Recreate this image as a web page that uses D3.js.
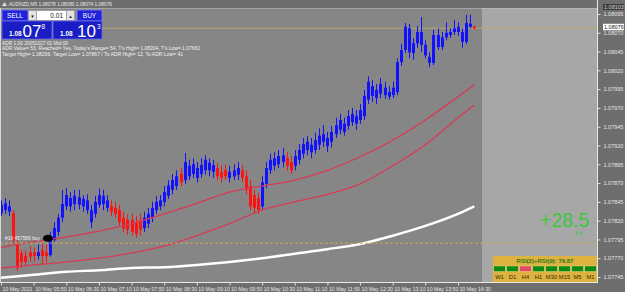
<!DOCTYPE html>
<html>
<head>
<meta charset="utf-8">
<script src="https://cdn.jsdelivr.net/npm/d3@7"></script>
<style>
body{margin:0;background:#6e6e6e;overflow:hidden}
svg{display:block;font-family:"Liberation Sans",Arial,sans-serif}
</style>
</head>
<body>
<script>
// M5 bars, 10 May 2021 05:10 .. 14:50
var opens = [
 1.07830,1.07834,1.07832,1.07830,1.07789,1.07777,1.07773,1.07778,1.07778,1.07773,
 1.07781,1.07778,1.07774,1.07794,1.07805,1.07824,1.07839,1.07839,1.07842,1.07841,
 1.07839,1.07834,1.07818,1.07829,1.07841,1.07842,1.07837,1.07839,1.07837,1.07834,
 1.07824,1.07821,1.07821,1.07818,1.07821,1.07810,1.07816,1.07824,1.07834,1.07839,
 1.07845,1.07853,1.07861,1.07866,1.07882,1.07874,1.07879,1.07882,1.07877,1.07882,
 1.07887,1.07887,1.07885,1.07890,1.07885,1.07887,1.07877,1.07879,1.07881,1.07887,
 1.07879,1.07866,1.07854,1.07850,1.07839,1.07869,1.07887,1.07893,1.07895,1.07898,
 1.07903,1.07898,1.07893,1.07901,1.07909,1.07914,1.07911,1.07914,1.07921,1.07925,
 1.07919,1.07925,1.07935,1.07941,1.07938,1.07946,1.07951,1.07949,1.07954,1.07959,
 1.07981,1.07986,1.07983,1.07989,1.07987,1.07985,1.07987,1.07991,1.08031,1.08047,
 1.08044,1.08043,1.08056,1.08054,1.08040,1.08030,1.08030,1.08051,1.08051,1.08064,
 1.08067,1.08071,1.08071,1.08058,1.08058,1.08078,1.08078
];
var highs = [
 1.07847,1.07850,1.07847,1.07834,1.07794,1.07781,1.07781,1.07786,1.07784,1.07788,
 1.07790,1.07788,1.07805,1.07818,1.07829,1.07861,1.07863,1.07858,1.07861,1.07861,
 1.07854,1.07855,1.07841,1.07853,1.07863,1.07861,1.07854,1.07847,1.07845,1.07841,
 1.07832,1.07828,1.07829,1.07826,1.07829,1.07832,1.07837,1.07845,1.07853,1.07854,
 1.07866,1.07874,1.07882,1.07887,1.07890,1.07910,1.07901,1.07903,1.07898,1.07903,
 1.07907,1.07903,1.07901,1.07897,1.07893,1.07894,1.07893,1.07895,1.07898,1.07894,
 1.07887,1.07874,1.07861,1.07857,1.07879,1.07898,1.07909,1.07911,1.07914,1.07917,
 1.07911,1.07906,1.07914,1.07922,1.07930,1.07933,1.07930,1.07937,1.07943,1.07947,
 1.07938,1.07946,1.07957,1.07962,1.07957,1.07967,1.07970,1.07967,1.07975,1.07994,
 1.08012,1.08007,1.08002,1.08010,1.08005,1.07999,1.08005,1.08036,1.08055,1.08083,
 1.08082,1.08063,1.08079,1.08091,1.08060,1.08044,1.08074,1.08076,1.08071,1.08084,
 1.08076,1.08087,1.08084,1.08076,1.08094,1.08094,1.08080
];
var lows = [
 1.07826,1.07829,1.07826,1.07789,1.07753,1.07757,1.07760,1.07765,1.07765,1.07768,
 1.07762,1.07765,1.07772,1.07792,1.07800,1.07818,1.07834,1.07832,1.07834,1.07835,
 1.07832,1.07829,1.07810,1.07824,1.07837,1.07834,1.07832,1.07826,1.07824,1.07813,
 1.07805,1.07801,1.07800,1.07797,1.07800,1.07805,1.07810,1.07818,1.07829,1.07834,
 1.07839,1.07849,1.07855,1.07861,1.07866,1.07869,1.07874,1.07877,1.07871,1.07877,
 1.07881,1.07879,1.07877,1.07874,1.07871,1.07874,1.07871,1.07874,1.07874,1.07871,
 1.07855,1.07834,1.07829,1.07829,1.07835,1.07863,1.07882,1.07887,1.07890,1.07891,
 1.07887,1.07882,1.07887,1.07895,1.07903,1.07907,1.07903,1.07909,1.07914,1.07918,
 1.07911,1.07917,1.07930,1.07935,1.07933,1.07941,1.07946,1.07941,1.07949,1.07954,
 1.07975,1.07978,1.07975,1.07983,1.07982,1.07981,1.07983,1.07987,1.08026,1.08043,
 1.08036,1.08034,1.08050,1.08044,1.08036,1.08024,1.08027,1.08047,1.08047,1.08060,
 1.08063,1.08067,1.08066,1.08050,1.08055,1.08076,1.08074
];
var closes = [
 1.07841,1.07843,1.07839,1.07794,1.07757,1.07765,1.07765,1.07772,1.07773,1.07778,
 1.07773,1.07773,1.07797,1.07810,1.07824,1.07842,1.07854,1.07850,1.07853,1.07851,
 1.07849,1.07847,1.07834,1.07845,1.07854,1.07853,1.07847,1.07832,1.07829,1.07818,
 1.07810,1.07808,1.07805,1.07802,1.07808,1.07824,1.07829,1.07837,1.07845,1.07847,
 1.07858,1.07867,1.07874,1.07879,1.07871,1.07898,1.07893,1.07895,1.07890,1.07894,
 1.07901,1.07897,1.07894,1.07879,1.07877,1.07879,1.07885,1.07887,1.07890,1.07877,
 1.07861,1.07839,1.07837,1.07834,1.07871,1.07890,1.07901,1.07903,1.07906,1.07907,
 1.07893,1.07887,1.07906,1.07914,1.07922,1.07925,1.07921,1.07927,1.07933,1.07935,
 1.07930,1.07938,1.07947,1.07954,1.07949,1.07959,1.07962,1.07959,1.07967,1.07986,
 1.08005,1.07999,1.07994,1.08002,1.07997,1.07991,1.07997,1.08031,1.08047,1.08078,
 1.08076,1.08056,1.08071,1.08071,1.08054,1.08038,1.08067,1.08067,1.08064,1.08070,
 1.08071,1.08076,1.08078,1.08071,1.08083,1.08082,1.08076
];

// indicator lines, read every 8 bars
var maIndex = [0,8,16,24,32,40,48,56,64,72,80,88,96,104,112,116];
var maUpper = [1.07784,1.07792,1.07798,1.07806,1.07816,1.07829,1.07843,1.07858,1.07866,1.07874,1.07887,1.07905,1.07927,1.07954,1.07985,1.08001];
var maLower = [1.07757,1.07761,1.07765,1.07770,1.07777,1.07786,1.07800,1.07816,1.07834,1.07845,1.07855,1.07869,1.07893,1.07921,1.07957,1.07974];
var maSlow  = [1.07744,1.07748,1.07752,1.07754,1.07757,1.07758,1.07761,1.07765,1.07770,1.07776,1.07782,1.07789,1.07800,1.07813,1.07829,1.07839];

var timeTicks = [0,8,16,24,32,40,48,56,64,72,80,88,96,104,112];
var timeLabels = ["10 May 2021","10 May 05:50","10 May 06:30","10 May 07:10","10 May 07:50",
  "10 May 08:30","10 May 09:10","10 May 09:50","10 May 10:30","10 May 11:10","10 May 11:50",
  "10 May 12:30","10 May 13:10","10 May 13:50","10 May 14:30"];
var priceTicks = [1.07745,1.07770,1.07795,1.07820,1.07845,1.07870,1.07895,1.07920,
  1.07945,1.07970,1.07995,1.08020,1.08045,1.08070,1.08095];

var bid = 1.08076, ask = 1.08103;
var tradePrice = 1.07790, tradeBar = 12, tradeLabel = "#10 457589 buy";
var tfNames = ["W1","D1","H4","H1","M30","M15","M5","M1"];
var tfUp = [true,true,false,true,true,true,true,true];
var rsiSum = 79.87;
var scoreMain = "+28.5", scoreSub = "8.6";
var titleText = "AUDNZD,M5  1.08078 1.08080 1.08074 1.08076";
var adrLines = [
  "ADR 1.00 20051027 01 Mid 00",
  "ADR Value= 53, Reached= Yes, Today's Range= 54, T's High= 1.08204, T's Low= 1.07662",
  "Target High= 1.08296, Target Low= 1.07867 / To ADR High= 12, To ADR Low= 41"
];
var adrWidths = [66, 198, 181];

var W = 625, H = 292, plotR = 597, plotT = 8, plotB = 282, shadeL = 482;

var svg = d3.select("body").append("svg").attr("width", W).attr("height", H);

var x = d3.scaleLinear().domain([0, 116]).range([1, 474.3]);
var y = d3.scaleLinear().domain([1.07745, 1.08095]).range([277, 14]);

svg.append("rect").attr("width", W).attr("height", H).attr("fill", "#6e6e6e");
svg.append("rect").attr("x", 0).attr("y", plotT).attr("width", plotR).attr("height", plotB - plotT).attr("fill", "#868686");
svg.append("rect").attr("x", shadeL).attr("y", plotT).attr("width", plotR - shadeL).attr("height", plotB - plotT).attr("fill", "#a7a7a7");

svg.append("clipPath").attr("id", "plotClip").append("rect")
   .attr("x", 0).attr("y", plotT).attr("width", plotR).attr("height", plotB - plotT);
var plot = svg.append("g").attr("clip-path", "url(#plotClip)");

// ask / bid lines
plot.append("line").attr("x1", 0).attr("x2", plotR).attr("y1", y(ask)).attr("y2", y(ask))
    .attr("stroke", "#c4c4c4").attr("stroke-width", 1);
plot.append("line").attr("x1", 0).attr("x2", plotR).attr("y1", y(bid)).attr("y2", y(bid))
    .attr("stroke", "#b3a86a").attr("stroke-width", 1);

// candles
var bars = d3.range(opens.length);
function barColor(i){ return closes[i] >= opens[i] ? "#1212ff" : "#ff1212"; }
plot.selectAll(".wick").data(bars).enter().append("line")
    .attr("x1", function(i){ return Math.round(x(i)) + 0.5; })
    .attr("x2", function(i){ return Math.round(x(i)) + 0.5; })
    .attr("y1", function(i){ return y(highs[i]); })
    .attr("y2", function(i){ return y(lows[i]); })
    .attr("stroke", barColor).attr("stroke-width", 1);
plot.selectAll(".body").data(bars).enter().append("rect")
    .attr("x", function(i){ return Math.round(x(i)) - 1; })
    .attr("width", 3)
    .attr("y", function(i){ return y(Math.max(opens[i], closes[i])); })
    .attr("height", function(i){ return Math.max(1, Math.abs(y(opens[i]) - y(closes[i]))); })
    .attr("fill", barColor);

// indicator lines
var line = d3.line().x(function(d){ return x(d[0]); }).y(function(d){ return y(d[1]); }).curve(d3.curveMonotoneX);
function pts(arr){ return maIndex.map(function(d, k){ return [d, arr[k]]; }); }
plot.append("path").attr("d", line(pts(maSlow))).attr("fill", "none").attr("stroke", "#ffffff").attr("stroke-width", 2.5);
plot.append("path").attr("d", line(pts(maLower))).attr("fill", "none").attr("stroke", "#d83a55").attr("stroke-width", 1.3);
plot.append("path").attr("d", line(pts(maUpper))).attr("fill", "none").attr("stroke", "#d83a55").attr("stroke-width", 1.3);

// open trade
plot.append("line").attr("x1", 0).attr("x2", plotR).attr("y1", y(tradePrice)).attr("y2", y(tradePrice))
    .attr("stroke", "#d2a85a").attr("stroke-width", 1).attr("stroke-dasharray", "3,2");
plot.append("ellipse").attr("cx", x(tradeBar) - 2).attr("cy", y(tradePrice) - 5).attr("rx", 5).attr("ry", 3.5).attr("fill", "#000");
plot.append("text").attr("x", 5).attr("y", y(tradePrice) - 3.3).text(tradeLabel)
    .attr("font-size", 5).attr("fill", "#f0f0f0").attr("textLength", 35).attr("lengthAdjust", "spacingAndGlyphs");

// frame
svg.append("line").attr("x1", 0.5).attr("x2", 0.5).attr("y1", plotT).attr("y2", plotB).attr("stroke", "#d8d8d8");
svg.append("line").attr("x1", 0).attr("x2", plotR + 1).attr("y1", plotB + 0.5).attr("y2", plotB + 0.5).attr("stroke", "#e8e8e8");

// price axis
var yAxis = svg.append("g").attr("transform", "translate(" + (plotR + 0.5) + ",0)")
    .call(d3.axisRight(y).tickValues(priceTicks).tickFormat(d3.format(".5f")).tickSize(3).tickPadding(3));
yAxis.select(".domain").remove();
yAxis.append("line").attr("y1", 0).attr("y2", plotB + 1).attr("stroke", "#e8e8e8");
yAxis.selectAll(".tick line").attr("stroke", "#e0e0e0");
yAxis.selectAll(".tick text").attr("fill", "#e6e6e6").attr("font-size", 5.5).attr("font-family", "Liberation Sans, Arial, sans-serif");

// ask / bid labels
svg.append("rect").attr("x", 603).attr("y", y(ask) - 4).attr("width", 21).attr("height", 6).attr("fill", "#3c3c3c");
svg.append("text").attr("x", 604).attr("y", y(ask) + 0.8).text(d3.format(".5f")(ask)).attr("font-size", 5.5).attr("fill", "#d0d0d0");
svg.append("rect").attr("x", 603).attr("y", y(bid) - 4.5).attr("width", 21).attr("height", 6.5).attr("fill", "#ffffff");
svg.append("text").attr("x", 604).attr("y", y(bid) + 0.8).text(d3.format(".5f")(bid)).attr("font-size", 5.5).attr("fill", "#222");

// time axis
var xAxis = svg.append("g").attr("transform", "translate(0," + (plotB + 0.5) + ")")
    .call(d3.axisBottom(x).tickValues(timeTicks).tickFormat(function(d, i){ return timeLabels[i]; }).tickSize(3).tickPadding(2));
xAxis.select(".domain").remove();
xAxis.selectAll(".tick line").attr("stroke", "#e0e0e0");
xAxis.selectAll(".tick text").attr("text-anchor", "start").attr("x", 1).attr("dy", "0.6em")
     .attr("fill", "#e6e6e6").attr("font-size", 5.2).attr("font-family", "Liberation Sans, Arial, sans-serif");

// title
svg.append("path").attr("d", "M2,6 L4.5,2 L7,6 Z").attr("fill", "#dcdcdc");
svg.append("text").attr("x", 9).attr("y", 6).text(titleText).attr("font-size", 5.5).attr("fill", "#e8e8e8")
   .attr("textLength", 103).attr("lengthAdjust", "spacingAndGlyphs");

// one-click trading widget
var wg = svg.append("g");
function box(x0, y0, w0, h0, fill, stroke){
  wg.append("rect").attr("x", x0).attr("y", y0).attr("width", w0).attr("height", h0)
    .attr("fill", fill).attr("stroke", stroke).attr("stroke-width", 0.8);
}
function txt(x0, y0, s, size, fill, anchor, weight){
  wg.append("text").attr("x", x0).attr("y", y0).text(s).attr("font-size", size).attr("fill", fill)
    .attr("text-anchor", anchor || "start").attr("font-weight", weight || "normal");
}
box(2, 10, 26, 11, "#1f22d8", "#8a8cf0");
txt(15, 18, "SELL", 6.5, "#ffffff", "middle");
box(28.5, 10.5, 8, 10, "#e4e4e4", "#999");
txt(32.5, 17.5, "\u25BC", 4.5, "#222", "middle");
box(36.5, 10.5, 30, 10, "#ffffff", "#999");
txt(63, 18, "0.01", 6.5, "#111", "end");
box(66.5, 10.5, 8, 10, "#e4e4e4", "#999");
txt(70.5, 17.5, "\u25B2", 4.5, "#222", "middle");
box(77, 10, 25, 11, "#1f22d8", "#8a8cf0");
txt(89.5, 18, "BUY", 6.5, "#ffffff", "middle");
box(2, 21, 50, 18, "#1a1cc4", "#6a6ce8");
box(53, 21, 49, 18, "#1a1cc4", "#6a6ce8");
txt(9, 36, "1.08", 6.5, "#ffffff", "start", "bold");
txt(22.5, 36.5, "07", 17, "#ffffff");
txt(41.5, 28.5, "8", 6.5, "#ffffff");
txt(60, 36, "1.08", 6.5, "#ffffff", "start", "bold");
txt(77, 36.5, "10", 17, "#ffffff");
txt(97, 28.5, "3", 6.5, "#ffffff");

// ADR info lines
adrLines.forEach(function(s, k){
  svg.append("text").attr("x", 2).attr("y", 44.5 + k * 5.6).text(s).attr("font-size", 5.3).attr("fill", "#f2f2f2")
     .attr("textLength", adrWidths[k]).attr("lengthAdjust", "spacingAndGlyphs");
});

// score
svg.append("text").attr("x", 540).attr("y", 226.5).text(scoreMain).attr("font-size", 19.5).attr("fill", "#3cc83c");
svg.append("text").attr("x", 575).attr("y", 235).text(scoreSub).attr("font-size", 5.5).attr("fill", "#3cc83c");

// RSI multi-timeframe panel
var px = 493, pw = plotR - px, py = 256;
var cell = d3.scaleBand().domain(tfNames).range([px, px + pw]).paddingInner(0.12).paddingOuter(0.06);
svg.append("rect").attr("x", px).attr("y", py).attr("width", pw).attr("height", plotB - py).attr("fill", "#ddb23e");
svg.append("text").attr("x", px + pw / 2).attr("y", py + 7).attr("text-anchor", "middle")
   .text("RSI(2)+RSI(9):  " + rsiSum.toFixed(2)).attr("font-size", 6).attr("font-weight", "bold").attr("fill", "#2f7a1c");
svg.selectAll(".tfcell").data(tfNames).enter().append("rect")
   .attr("x", function(d){ return cell(d); }).attr("y", py + 10).attr("width", cell.bandwidth()).attr("height", 5.5)
   .attr("fill", function(d, k){ return tfUp[k] ? "#0c8a12" : "#e24a63"; })
   .attr("stroke", "#f0e0a0").attr("stroke-width", 0.4);
svg.selectAll(".tflab").data(tfNames).enter().append("text")
   .attr("x", function(d){ return cell(d) + cell.bandwidth() / 2; }).attr("y", py + 23)
   .attr("text-anchor", "middle").text(function(d){ return d; })
   .attr("font-size", 5.8).attr("fill", "#3a2a08");
</script>
</body>
</html>
